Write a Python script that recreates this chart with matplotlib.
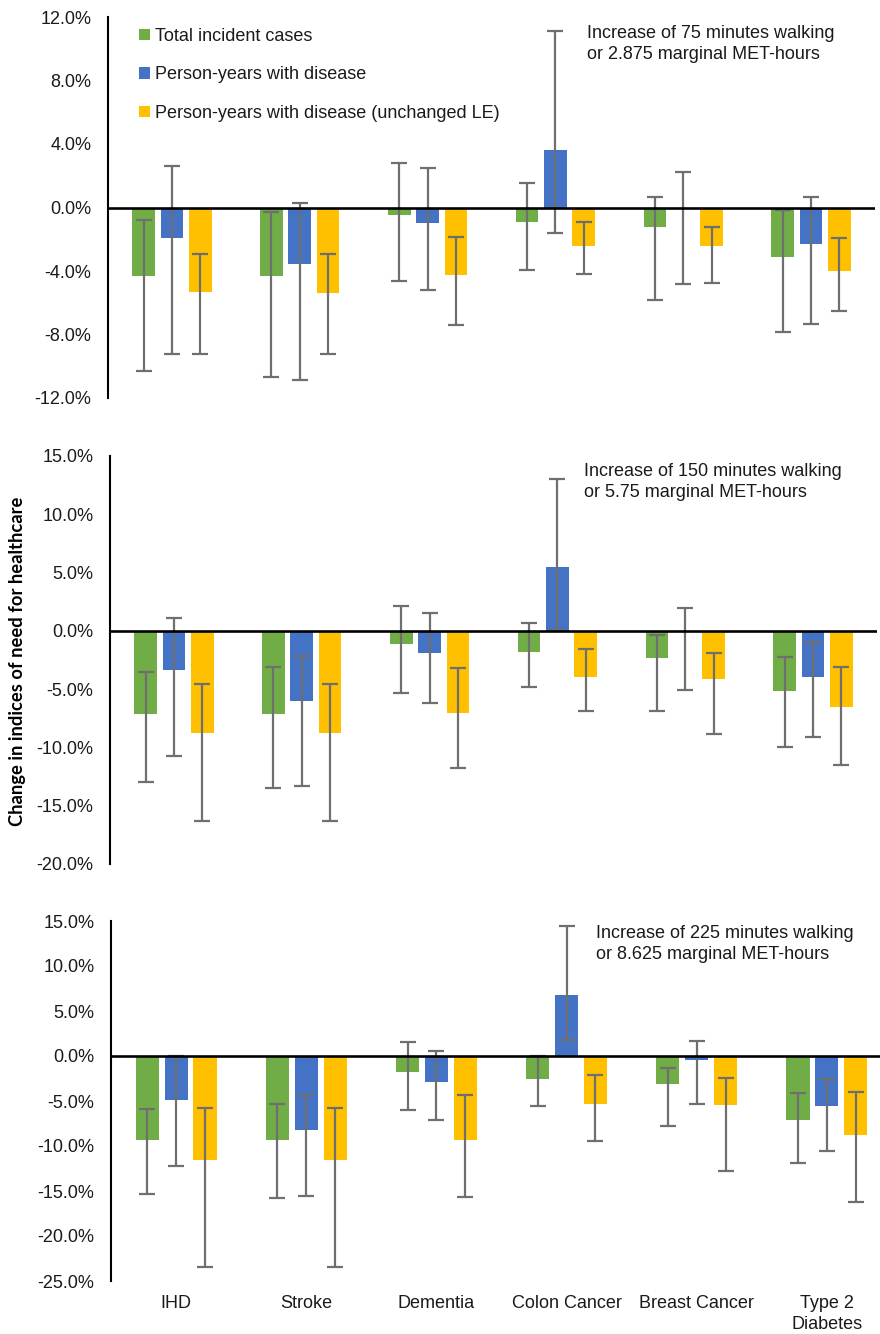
import matplotlib
matplotlib.use("Agg")
import matplotlib.pyplot as plt
import numpy as np
from matplotlib.patches import Patch
from matplotlib.ticker import FuncFormatter

plt.rcParams["font.family"] = ["Liberation Sans", "DejaVu Sans"]

categories = ["IHD", "Stroke", "Dementia", "Colon Cancer", "Breast Cancer", "Type 2\nDiabetes"]
series_names = ["Total incident cases", "Person-years with disease",
                "Person-years with disease (unchanged LE)"]
colors = ["#70AD47", "#4472C4", "#FFC000"]

# --- 75 minutes walking (2.875 MET-hours) ---
inc_75 = [-4.34, -4.34, -0.50, -0.93, -1.20, -3.10]
inc_75_lo = [-10.3, -10.7, -4.61, -3.96, -5.83, -7.87]
inc_75_hi = [-0.80, -0.30, 2.82, 1.56, 0.67, -0.13]
py_75 = [-1.90, -3.54, -0.95, 3.62, -0.05, -2.27]
py_75_lo = [-9.25, -10.85, -5.22, -1.60, -4.80, -7.31]
py_75_hi = [2.60, 0.27, 2.48, 11.10, 2.21, 0.67]
pyle_75 = [-5.33, -5.37, -4.23, -2.44, -2.44, -4.02]
pyle_75_lo = [-9.20, -9.25, -7.43, -4.20, -4.74, -6.50]
pyle_75_hi = [-2.95, -2.95, -1.87, -0.93, -1.20, -1.90]

# --- 150 minutes walking (5.75 MET-hours) ---
inc_150 = [-7.09, -7.09, -1.17, -1.83, -2.29, -5.20]
inc_150_lo = [-13.0, -13.52, -5.32, -4.83, -6.90, -10.0]
inc_150_hi = [-3.49, -3.06, 2.17, 0.69, -0.34, -2.26]
py_150 = [-3.40, -6.00, -1.92, 5.45, -0.05, -4.00]
py_150_lo = [-10.75, -13.30, -6.23, 0.10, -5.06, -9.07]
py_150_hi = [1.11, -2.14, 1.51, 13.0, 2.00, -0.94]
pyle_150 = [-8.72, -8.72, -7.06, -4.00, -4.09, -6.55]
pyle_150_lo = [-16.35, -16.35, -11.78, -6.90, -8.87, -11.49]
pyle_150_hi = [-4.55, -4.55, -3.15, -1.58, -1.86, -3.12]

# --- 225 minutes walking (8.625 MET-hours) ---
inc_225 = [-9.35, -9.35, -1.82, -2.56, -3.15, -7.13]
inc_225_lo = [-15.33, -15.78, -6.00, -5.60, -7.83, -11.90]
inc_225_hi = [-5.90, -5.38, 1.52, 0.00, -1.37, -4.16]
py_225 = [-4.90, -8.20, -2.86, 6.79, -0.45, -5.57]
py_225_lo = [-12.17, -15.50, -7.16, 1.75, -5.38, -10.60]
py_225_hi = [0.00, -4.34, 0.56, 14.40, 1.63, -2.60]
pyle_225 = [-11.50, -11.50, -9.35, -5.38, -5.49, -8.80]
pyle_225_lo = [-23.40, -23.40, -15.70, -9.47, -12.73, -16.20]
pyle_225_hi = [-5.76, -5.76, -4.30, -2.12, -2.48, -4.04]

panels = [
    dict(series=[(inc_75, inc_75_lo, inc_75_hi), (py_75, py_75_lo, py_75_hi),
                 (pyle_75, pyle_75_lo, pyle_75_hi)],
         ylim=(-12, 12), step=4,
         note="Increase of 75 minutes walking\nor 2.875 marginal MET-hours",
         rect=[108 / 880, 1 - 398 / 1334, 767 / 880, 381 / 1334],
         note_xy=(587, 25)),
    dict(series=[(inc_150, inc_150_lo, inc_150_hi), (py_150, py_150_lo, py_150_hi),
                 (pyle_150, pyle_150_lo, pyle_150_hi)],
         ylim=(-20, 15), step=5,
         note="Increase of 150 minutes walking\nor 5.75 marginal MET-hours",
         rect=[110 / 880, 1 - 864 / 1334, 767 / 880, 408 / 1334],
         note_xy=(584, 463)),
    dict(series=[(inc_225, inc_225_lo, inc_225_hi), (py_225, py_225_lo, py_225_hi),
                 (pyle_225, pyle_225_lo, pyle_225_hi)],
         ylim=(-25, 15), step=5,
         note="Increase of 225 minutes walking\nor 8.625 marginal MET-hours",
         rect=[111 / 880, 1 - 1281 / 1334, 781 / 880, 360 / 1334],
         note_xy=(596, 925)),
]

W, H = 880, 1334
fig = plt.figure(figsize=(W / 100, H / 100), dpi=100)

x = np.arange(len(categories))
offsets = [-0.222, 0.0, 0.222]
bar_w = 0.177

axes = []
for i, p in enumerate(panels):
    ax = fig.add_axes(p["rect"])
    axes.append(ax)
    for (vals, lo, hi), off, col in zip(p["series"], offsets, colors):
        vals = np.array(vals)
        lo = np.array(lo)
        hi = np.array(hi)
        ax.bar(x + off, vals, width=bar_w, color=col, zorder=2)
        ax.errorbar(x + off, vals, yerr=[vals - lo, hi - vals], fmt="none",
                    ecolor="#6f6f6f", elinewidth=1.6, capsize=5.5, capthick=1.6,
                    zorder=3)
    ax.axhline(0, color="black", lw=1.9, zorder=4)
    ax.set_xlim(-0.5, len(categories) - 0.5)
    ax.set_ylim(*p["ylim"])
    ax.set_yticks(np.arange(p["ylim"][0], p["ylim"][1] + 0.01, p["step"]))
    ax.yaxis.set_major_formatter(FuncFormatter(lambda v, _: f"{v:.1f}%"))
    ax.tick_params(axis="y", length=0, pad=12, labelsize=13, labelcolor="#1a1a1a")
    for s in ["top", "right", "bottom"]:
        ax.spines[s].set_visible(False)
    ax.spines["left"].set_linewidth(1.5)
    ax.spines["left"].set_color("black")
    if i == 2:
        ax.set_xticks(x)
        ax.set_xticklabels(categories, fontsize=13, color="#1a1a1a", linespacing=1.35)
        ax.tick_params(axis="x", length=0, pad=10)
    else:
        ax.set_xticks([])
    fig.text(p["note_xy"][0] / W, 1 - p["note_xy"][1] / H, p["note"],
             fontsize=13, color="#1a1a1a", va="top", ha="left", linespacing=1.3)

handles = [Patch(facecolor=c, edgecolor="none") for c in colors]
axes[0].legend(handles, series_names, loc="upper left", bbox_to_anchor=(0.041, 0.972),
               frameon=False, fontsize=13, handlelength=0.6, handleheight=0.6,
               handletextpad=0.25, labelspacing=1.19, borderpad=0, borderaxespad=0,
               labelcolor="#1a1a1a")

fig.text(18 / W, 1 - 661 / H, "Change in indices of need for healthcare",
         rotation=90, ha="center", va="center", fontsize=13.2, fontweight="bold",
         family=["Lato", "DejaVu Sans"], color="black")

fig.savefig("out.png", dpi=100)
